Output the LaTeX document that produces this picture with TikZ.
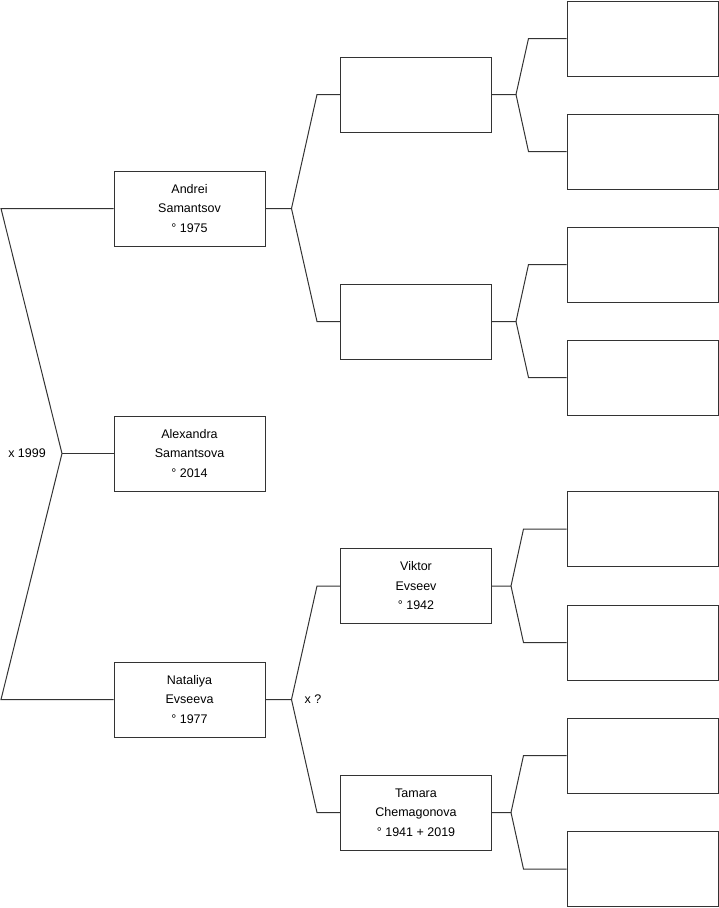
\documentclass[tikz,border=0pt]{standalone}
\usepackage{fontspec}
\setmainfont{Liberation Sans}
\usetikzlibrary{positioning}
\definecolor{edge}{HTML}{333333}
\tikzset{
  person/.style={draw=edge, line width=1pt, minimum width=151pt, minimum height=75pt, align=center, inner sep=0pt, font=\fontsize{12.5}{19.5}\selectfont},
  blank/.style={person},
  link/.style={draw=edge, line width=1pt},
  note/.style={font=\fontsize{12.5}{15}\selectfont, inner sep=0pt}
}

\begin{document}
\begin{tikzpicture}[x=1pt, y=-1pt]
\useasboundingbox (0,0) rectangle (719,908);

% generation 1
\node[person] (andrei) at (189.5,208.5) {Andrei\\Samantsov\\\textdegree{} 1975};
\node[person] (alexandra) at (189.5,453.5) {Alexandra\\Samantsova\\\textdegree{} 2014};
\node[person] (nataliya) at (189.5,699.5) {Nataliya\\Evseeva\\\textdegree{} 1977};

% generation 2
\node[blank] (fatherA) at (416,94.5) {};
\node[blank] (motherA) at (416,321.5) {};
\node[person] (viktor) at (416,586) {Viktor\\Evseev\\\textdegree{} 1942};
\node[person] (tamara) at (416,812.5) {Tamara\\Chemagonova\\\textdegree{} 1941 + 2019};

% generation 3
\node[blank] (gfA1) at (642.5,38.5) {};
\node[blank] (gmA1) at (642.5,151.5) {};
\node[blank] (gfA2) at (642.5,264.5) {};
\node[blank] (gmA2) at (642.5,377.5) {};
\node[blank] (gfN1) at (642.5,529) {};
\node[blank] (gmN1) at (642.5,642.5) {};
\node[blank] (gfN2) at (642.5,755.5) {};
\node[blank] (gmN2) at (642.5,869) {};

% couple of generation 1
\coordinate (rootA) at (1,208.5);
\coordinate (rootM) at (62,453.5);
\coordinate (rootN) at (1,699.5);
\draw[link] (andrei.west) -- (rootA) -- (rootM) -- (rootN) -- (nataliya.west);
\draw[link] (rootM) -- (alexandra.west);
\node[note, left=16pt of rootM] (wed1) {x 1999};

% parents of Andrei
\draw[link] (andrei.east) -- ++(26,0) coordinate (forkA)
  -- ([xshift=-23pt]fatherA.west) -- (fatherA.west);
\draw[link] (forkA) -- ([xshift=-23pt]motherA.west) -- (motherA.west);

% parents of Nataliya
\draw[link] (nataliya.east) -- ++(26,0) coordinate (forkN)
  -- ([xshift=-23pt]viktor.west) -- (viktor.west);
\draw[link] (forkN) -- ([xshift=-23pt]tamara.west) -- (tamara.west);
\node[note, right=13pt of forkN] (wed2) {x ?};

% generation 3 forks
\draw[link] (fatherA.east) -- ++(24,0) coordinate (forkA1)
  -- ([xshift=-38pt]gfA1.west) -- (gfA1.west);
\draw[link] (forkA1) -- ([xshift=-38pt]gmA1.west) -- (gmA1.west);

\draw[link] (motherA.east) -- ++(24,0) coordinate (forkA2)
  -- ([xshift=-38pt]gfA2.west) -- (gfA2.west);
\draw[link] (forkA2) -- ([xshift=-38pt]gmA2.west) -- (gmA2.west);

\draw[link] (viktor.east) -- ++(19,0) coordinate (forkN1)
  -- ([xshift=-43pt]gfN1.west) -- (gfN1.west);
\draw[link] (forkN1) -- ([xshift=-43pt]gmN1.west) -- (gmN1.west);

\draw[link] (tamara.east) -- ++(19,0) coordinate (forkN2)
  -- ([xshift=-43pt]gfN2.west) -- (gfN2.west);
\draw[link] (forkN2) -- ([xshift=-43pt]gmN2.west) -- (gmN2.west);
\end{tikzpicture}
\end{document}
